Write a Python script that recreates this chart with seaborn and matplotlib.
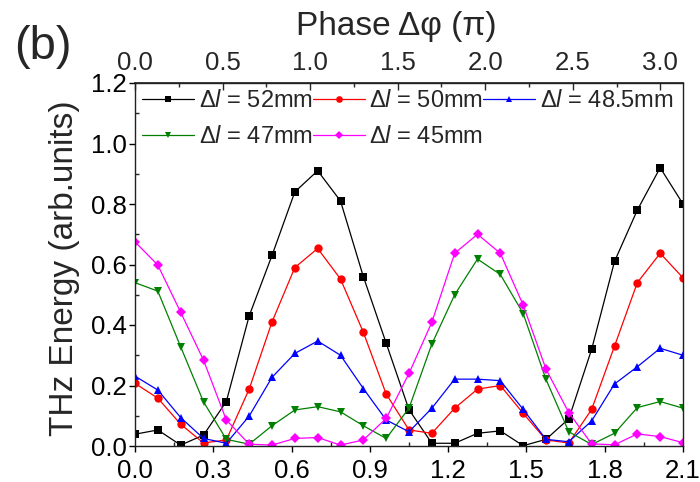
import matplotlib
matplotlib.use("Agg")
import matplotlib.pyplot as plt
import numpy as np
import pandas as pd
import seaborn as sns
from matplotlib.ticker import MultipleLocator

# ---- data ----
step = 0.0875
n_points = 25
x_vals = [round(i * step, 4) for i in range(n_points)]

labels = [r"$\Delta\mathit{l}$ = 52mm", r"$\Delta\mathit{l}$ = 50mm", r"$\Delta\mathit{l}$ = 48.5mm",
          r"$\Delta\mathit{l}$ = 47mm", r"$\Delta\mathit{l}$ = 45mm"]

y_52 = [0.039, 0.053, 0.003, 0.036, 0.147, 0.43, 0.63, 0.84, 0.91, 0.81, 0.56, 0.34, 0.12,
        0.009, 0.009, 0.042, 0.05, 0.001, 0.022, 0.09, 0.32, 0.61, 0.78, 0.92, 0.80]
y_50 = [0.207, 0.158, 0.072, 0.01, 0.02, 0.188, 0.41, 0.59, 0.653, 0.552, 0.376, 0.172, 0.053,
        0.042, 0.125, 0.188, 0.20, 0.108, 0.02, 0.01, 0.121, 0.33, 0.54, 0.637, 0.556]
y_485 = [0.231, 0.185, 0.094, 0.025, 0.009, 0.099, 0.227, 0.306, 0.347, 0.30, 0.19, 0.086, 0.047,
         0.125, 0.221, 0.221, 0.216, 0.121, 0.022, 0.014, 0.083, 0.205, 0.262, 0.323, 0.30]
y_47 = [0.54, 0.512, 0.328, 0.146, 0.022, 0.006, 0.067, 0.119, 0.13, 0.113, 0.067, 0.025, 0.125,
        0.337, 0.50, 0.618, 0.567, 0.438, 0.22, 0.047, 0.005, 0.042, 0.127, 0.147, 0.125]
y_45 = [0.675, 0.598, 0.442, 0.284, 0.086, 0.006, 0.003, 0.025, 0.028, 0.003, 0.02, 0.091, 0.24,
        0.409, 0.637, 0.70, 0.637, 0.466, 0.254, 0.11, 0.007, 0.004, 0.04, 0.031, 0.011]

colors = ["#000000", "#ff0000", "#0000ff", "#008000", "#ff00ff"]
markers = ["s", "o", "^", "v", "D"]

x_ticks = [0.0, 0.3, 0.6, 0.9, 1.2, 1.5, 1.8, 2.1]
y_ticks = [0.0, 0.2, 0.4, 0.6, 0.8, 1.0, 1.2]
phase_ticks = [0.0, 0.5, 1.0, 1.5, 2.0, 2.5, 3.0]
phase_per_x = 1.49

series = [y_52, y_50, y_485, y_47, y_45]
df = pd.concat([pd.DataFrame({"x": x_vals, "y": s, "label": lab}) for s, lab in zip(series, labels)],
               ignore_index=True)

# ---- style ----
sns.set_theme(style="ticks")
plt.rcParams["font.family"] = ["Liberation Sans", "DejaVu Sans"]
plt.rcParams["mathtext.fontset"] = "custom"
plt.rcParams["mathtext.rm"] = "Liberation Sans"
plt.rcParams["mathtext.it"] = "Liberation Sans:italic"

W, H = 700, 482
L, R, T, B = 135, 683, 83, 446
fig = plt.figure(figsize=(W / 100, H / 100), dpi=100)
ax = fig.add_axes([L / W, (H - B) / H, (R - L) / W, (B - T) / H])

sns.lineplot(data=df, x="x", y="y", hue="label", style="label",
             palette=dict(zip(labels, colors)), markers=dict(zip(labels, markers)),
             dashes=False, linewidth=0.9, markersize=6, markeredgewidth=0, ax=ax)

for line in ax.get_lines():
    if line.get_marker() == "D":
        line.set_markersize(5)

ax.set_xlim(0, 2.1)
ax.set_ylim(0, 1.2)
ax.set_xticks(x_ticks)
ax.set_yticks(y_ticks)
ax.set_xticklabels([f"{v:.1f}" for v in x_ticks])
ax.set_yticklabels([f"{v:.1f}" for v in y_ticks])
ax.xaxis.set_minor_locator(MultipleLocator(0.15))
ax.yaxis.set_minor_locator(MultipleLocator(0.1))
ax.tick_params(axis="both", which="major", direction="out", length=4, width=1, labelsize=18.5,
               colors="black")
ax.tick_params(axis="x", which="major", pad=5)
ax.tick_params(axis="y", which="major", pad=2)
ax.tick_params(axis="both", which="minor", direction="in", length=3, width=1)
ax.set_xlabel("")
ax.set_ylabel("THz Energy (arb.units)", fontsize=24)
ax.yaxis.set_label_coords((80 - L) / (R - L), 0.49)
for sp in ax.spines.values():
    sp.set_visible(True)
    sp.set_color("#222222")
    sp.set_linewidth(1)

top = ax.secondary_xaxis("top", functions=(lambda x: x * phase_per_x, lambda p: p / phase_per_x))
top.set_xticks(phase_ticks)
top.set_xticklabels([f"{v:.1f}" for v in phase_ticks])
top.xaxis.set_minor_locator(MultipleLocator(0.25))
top.tick_params(axis="x", which="major", direction="in", length=5, width=1, labelsize=18.5, pad=6)
top.tick_params(axis="x", which="minor", direction="in", length=3, width=1)
fig.text(396 / W, 1 - 26 / H, "Phase Δφ (π)", fontsize=24, ha="center", va="center")

handles, labs = ax.get_legend_handles_labels()
order = [0, 3, 1, 4, 2]
leg = ax.legend([handles[i] for i in order], [labs[i] for i in order], ncol=3, loc="upper left",
                frameon=False, fontsize=17, handlelength=2.2, handletextpad=0.2,
                columnspacing=0.0, labelspacing=0.6, borderaxespad=0.1, borderpad=0.2,
                markerscale=0.8)

fig.text(14 / W, 1 - 47 / H, "(b)", fontsize=34, va="center", ha="left")

fig.savefig("out.png", dpi=100)
